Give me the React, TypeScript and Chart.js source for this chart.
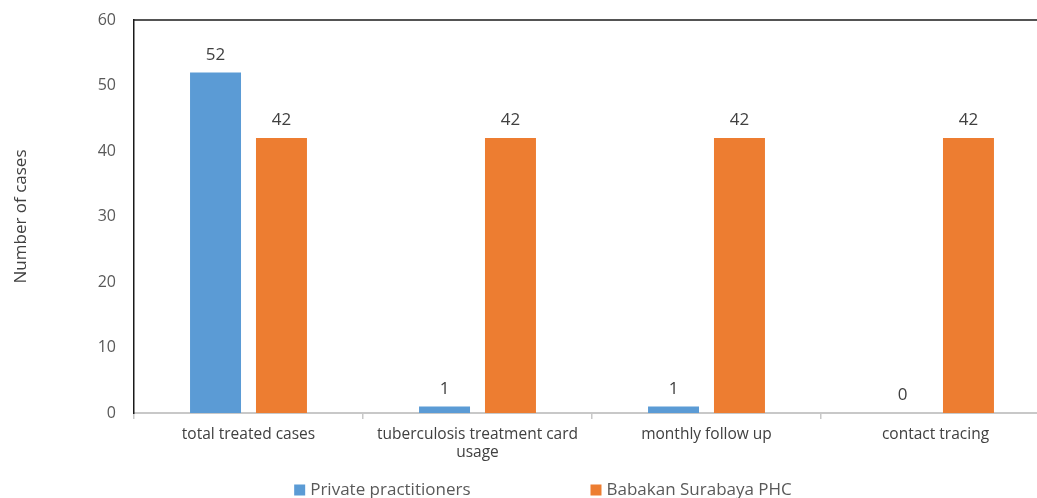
import React, { useEffect, useRef } from "react";
import { Chart, registerables } from "chart.js";

Chart.register(...registerables);

const categories: (string | string[])[] = [
  "total treated cases",
  ["tuberculosis treatment card", "usage"],
  "monthly follow up",
  "contact tracing",
];
const privatePractitioners = [52, 1, 1, 0];
const babakanPHC = [42, 42, 42, 42];
const seriesNames = ["Private practitioners", "Babakan Surabaya PHC"];
const seriesColors = ["#5B9BD5", "#ED7D31"];
const yTicks = { min: 0, max: 60, step: 10 };

const FONT = "'Open Sans', 'Noto Sans', sans-serif";

const dataLabelPlugin = {
  id: "dataLabels",
  afterDatasetsDraw(chart: any) {
    const ctx = chart.ctx;
    ctx.save();
    ctx.font = `17px ${FONT}`;
    ctx.fillStyle = "#404040";
    ctx.textAlign = "center";
    ctx.textBaseline = "bottom";
    chart.data.datasets.forEach((ds: any, i: number) => {
      const meta = chart.getDatasetMeta(i);
      meta.data.forEach((el: any, j: number) => {
        ctx.fillText(String(ds.data[j]), el.x, el.y - 9);
      });
    });
    ctx.restore();
  },
};

const frameAndLegendPlugin = {
  id: "frameLegend",
  afterDraw(chart: any) {
    const ctx = chart.ctx;
    const { left, right, top } = chart.chartArea;
    ctx.save();
    // top frame line
    ctx.strokeStyle = "#1a1a1a";
    ctx.lineWidth = 1.5;
    ctx.beginPath();
    ctx.moveTo(left, top);
    ctx.lineTo(right, top);
    ctx.stroke();
    // custom legend
    ctx.font = `17px ${FONT}`;
    ctx.textBaseline = "middle";
    ctx.textAlign = "left";
    const box = 11;
    const gapText = 5;
    const gapItems = 120;
    const widths = seriesNames.map((n) => box + gapText + ctx.measureText(n).width);
    const total = widths.reduce((a, b) => a + b, 0) + gapItems * (widths.length - 1);
    let x = chart.width / 2 - total / 2;
    const y = 490;
    seriesNames.forEach((n, i) => {
      ctx.fillStyle = seriesColors[i];
      ctx.fillRect(x, y - box / 2, box, box);
      ctx.fillStyle = "#595959";
      ctx.fillText(n, x + box + gapText, y);
      x += widths[i] + gapItems;
    });
    ctx.restore();
  },
};

export default function App() {
  const ref = useRef<HTMLCanvasElement>(null);
  useEffect(() => {
    document.body.style.margin = "0";
    const chart = new Chart(ref.current!, {
      type: "bar",
      data: {
        labels: categories,
        datasets: [
          {
            label: seriesNames[0],
            data: privatePractitioners,
            backgroundColor: seriesColors[0],
            categoryPercentage: 0.576,
            barPercentage: 0.773,
          },
          {
            label: seriesNames[1],
            data: babakanPHC,
            backgroundColor: seriesColors[1],
            categoryPercentage: 0.576,
            barPercentage: 0.773,
          },
        ],
      },
      options: {
        responsive: false,
        animation: false,
        layout: { padding: { top: 20, right: 36, bottom: 37, left: 0 } },
        plugins: {
          legend: { display: false },
          tooltip: { enabled: false },
        },
        scales: {
          x: {
            offset: true,
            grid: {
              display: true,
              offset: true,
              drawOnChartArea: false,
              drawTicks: true,
              tickLength: 6,
              color: "#c8c8c8",
              lineWidth: 1.5,
            },
            border: { display: true, color: "#c8c8c8", width: 2 },
            ticks: {
              color: "#404040",
              font: { family: FONT, size: 15.5 },
              padding: 6,
              maxRotation: 0,
              autoSkip: false,
            },
            afterFit: (s: any) => {
              s.height = 60;
            },
          },
          y: {
            min: yTicks.min,
            max: yTicks.max,
            grid: { display: false, drawTicks: false },
            border: { display: true, color: "#1a1a1a", width: 1.5 },
            ticks: {
              stepSize: yTicks.step,
              color: "#595959",
              font: { family: FONT, size: 16 },
              padding: 18,
            },
            title: {
              display: true,
              text: "Number of cases",
              color: "#404040",
              font: { family: FONT, size: 17 },
              padding: { top: 11, bottom: 0 },
            },
            afterFit: (s: any) => {
              s.width = 134;
              s.paddingTop = 0;
              s.paddingBottom = 0;
            },
          },
        },
      },
      plugins: [dataLabelPlugin, frameAndLegendPlugin],
    });
    return () => chart.destroy();
  }, []);
  return (
    <div style={{ width: 1037, height: 498, overflow: "hidden", position: "relative" }}>
      <canvas ref={ref} width={1086} height={510} style={{ display: "block" }} />
    </div>
  );
}
